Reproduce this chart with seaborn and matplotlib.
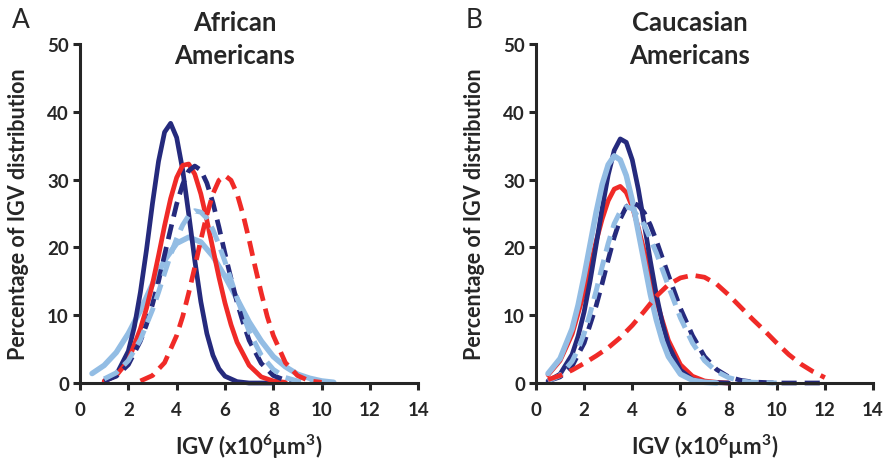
#%% Loading libraries
import seaborn as sns
import pandas as pd
import matplotlib.pyplot as plt

#%% Data (IGV in x10^6 um^3, percentage of distribution)
# Panel A - African Americans
a_navy_solid_x = [1.0, 1.5, 2.0, 2.25, 2.5, 2.75, 3.0, 3.25, 3.5, 3.75, 4.0, 4.25, 4.5,
                  4.75, 5.0, 5.25, 5.5, 5.75, 6.0, 6.5, 7.0, 8.0]
a_navy_solid_y = [0.2, 1.2, 4.7, 8.3, 13.4, 19.6, 26.5, 32.7, 37.0, 38.3, 36.2, 31.4, 24.9,
                  18.1, 12.0, 7.3, 4.1, 2.1, 1.0, 0.2, 0.0, 0.0]

a_red_solid_x = [1.0, 1.5, 2.0, 2.5, 2.75, 3.0, 3.25, 3.5, 3.75, 4.0, 4.25, 4.5, 4.75, 5.0,
                 5.25, 5.5, 5.75, 6.0, 6.25, 6.5, 7.0, 7.5, 8.0, 8.5]
a_red_solid_y = [0.3, 1.1, 3.3, 8.0, 11.0, 14.6, 18.8, 23.2, 27.2, 30.3, 32.1, 32.3, 30.8, 27.9,
                 24.0, 19.8, 15.6, 11.8, 8.6, 6.0, 2.6, 0.9, 0.3, 0.1]

a_navy_dash_x = [1.0, 1.5, 2.0, 2.5, 2.75, 3.0, 3.25, 3.5, 3.75, 4.0, 4.25, 4.5, 4.75, 5.0,
                 5.25, 5.5, 5.75, 6.0, 6.25, 6.5, 6.75, 7.0, 7.5, 8.0, 8.5, 9.0]
a_navy_dash_y = [0.3, 1.0, 2.7, 6.2, 8.6, 11.6, 15.0, 18.9, 22.7, 26.4, 29.3, 31.3, 32.0, 31.4,
                 29.5, 26.6, 23.0, 19.1, 15.4, 11.9, 8.9, 6.3, 2.9, 1.1, 0.4, 0.1]

a_red_dash_x = [2.5, 3.0, 3.5, 4.0, 4.25, 4.5, 4.75, 5.0, 5.25, 5.5, 5.75, 6.0, 6.25, 6.5,
                6.75, 7.0, 7.25, 7.5, 7.75, 8.0, 8.5, 9.0, 9.5, 10.0]
a_red_dash_y = [0.3, 1.1, 3.0, 7.0, 9.8, 13.3, 17.1, 21.1, 24.8, 27.9, 29.9, 30.6, 29.9, 27.9,
                24.8, 21.1, 17.1, 13.3, 9.8, 7.0, 3.0, 1.1, 0.3, 0.1]

a_blue_dash_x = [1.0, 1.5, 2.0, 2.5, 3.0, 3.25, 3.5, 3.75, 4.0, 4.25, 4.5, 4.75, 5.0, 5.25,
                 5.5, 5.75, 6.0, 6.5, 7.0, 7.5, 8.0, 8.5, 9.0, 10.0, 10.5]
a_blue_dash_y = [0.6, 1.5, 3.3, 6.4, 10.8, 13.4, 16.2, 18.9, 21.3, 23.3, 24.7, 25.4, 25.2, 24.3,
                 22.6, 20.4, 17.9, 12.5, 7.6, 4.1, 2.0, 0.8, 0.3, 0.05, 0.0]

a_blue_solid_x = [0.5, 1.0, 1.5, 2.0, 2.5, 3.0, 3.5, 4.0, 4.5, 5.0, 5.5, 6.0, 6.5, 7.0, 7.5,
                  8.0, 8.5, 9.0, 9.5, 10.0, 10.5]
a_blue_solid_y = [1.4, 2.6, 4.5, 7.3, 10.7, 14.6, 18.1, 20.6, 21.5, 20.8, 18.7, 15.7, 12.4, 9.0,
                  6.2, 3.9, 2.4, 1.3, 0.7, 0.3, 0.1]

# Panel B - Caucasian Americans
b_navy_solid_x = [0.5, 1.0, 1.5, 1.75, 2.0, 2.25, 2.5, 2.75, 3.0, 3.25, 3.5, 3.75, 4.0, 4.25,
                  4.5, 4.75, 5.0, 5.25, 5.5, 6.0, 6.5, 7.0, 8.0]
b_navy_solid_y = [0.3, 1.3, 4.2, 6.9, 10.5, 15.1, 20.4, 25.8, 30.7, 34.3, 36.0, 35.5, 32.9, 28.6,
                  23.4, 18.0, 13.0, 8.8, 5.6, 1.9, 0.5, 0.1, 0.0]

b_blue_solid_x = [0.5, 1.0, 1.5, 1.75, 2.0, 2.25, 2.5, 2.75, 3.0, 3.25, 3.5, 3.75, 4.0, 4.25,
                  4.5, 4.75, 5.0, 5.25, 5.5, 6.0, 6.5, 7.0, 7.5]
b_blue_solid_y = [1.4, 3.6, 8.0, 11.5, 15.8, 20.5, 25.2, 29.3, 32.2, 33.5, 32.9, 30.6, 26.9, 22.3,
                  17.7, 13.1, 9.3, 6.2, 3.9, 1.3, 0.4, 0.1, 0.0]

b_red_solid_x = [0.5, 1.0, 1.5, 2.0, 2.25, 2.5, 2.75, 3.0, 3.25, 3.5, 3.75, 4.0, 4.25, 4.5,
                 4.75, 5.0, 5.5, 6.0, 6.5, 7.0, 7.5, 8.0]
b_red_solid_y = [1.2, 3.3, 7.2, 13.4, 17.1, 20.9, 24.2, 26.9, 28.6, 29.0, 28.1, 26.0, 22.9, 19.4,
                 15.7, 12.1, 6.3, 2.7, 1.0, 0.3, 0.1, 0.0]

b_navy_dash_x = [0.5, 1.0, 1.5, 2.0, 2.5, 2.75, 3.0, 3.25, 3.5, 3.75, 4.0, 4.25, 4.5, 4.75,
                 5.0, 5.5, 6.0, 6.5, 7.0, 7.5, 8.0, 8.5, 9.0, 10.0, 11.0, 12.0]
b_navy_dash_y = [0.3, 0.9, 2.5, 5.9, 11.4, 14.7, 18.2, 21.5, 24.2, 26.0, 26.6, 26.2, 25.1, 23.3,
                 21.0, 15.9, 11.0, 7.0, 3.9, 2.0, 0.9, 0.4, 0.15, 0.0, 0.0, 0.0]

b_blue_dash_x = [0.5, 1.0, 1.5, 1.75, 2.0, 2.25, 2.5, 2.75, 3.0, 3.25, 3.5, 3.75, 4.0, 4.5,
                 5.0, 5.5, 6.0, 6.5, 7.0, 7.5, 8.0, 8.5, 9.0, 10.0]
b_blue_dash_y = [0.3, 1.1, 3.2, 5.0, 7.3, 10.3, 13.6, 17.2, 20.6, 23.5, 25.3, 26.0, 25.7, 23.3,
                 19.2, 14.3, 9.6, 5.9, 3.3, 1.7, 0.8, 0.3, 0.1, 0.0]

b_red_dash_x = [0.5, 1.0, 1.5, 2.0, 2.5, 3.0, 3.5, 4.0, 4.5, 5.0, 5.5, 6.0, 6.5, 7.0, 7.5,
                8.0, 8.5, 9.0, 9.5, 10.0, 10.5, 11.0, 11.5, 12.0]
b_red_dash_y = [0.5, 1.1, 1.9, 2.9, 4.0, 5.2, 6.7, 8.5, 10.6, 12.8, 14.5, 15.5, 15.9, 15.6, 14.6,
                13.0, 11.2, 9.4, 7.7, 5.9, 4.2, 2.8, 1.7, 0.8]

panel_titles = [("African", "Americans"), ("Caucasian", "Americans")]
panel_letters = ["A", "B"]
x_ticks = [0, 2, 4, 6, 8, 10, 12, 14]
y_ticks = [0, 10, 20, 30, 40, 50]

#%% Theming and fonts
sns.set_style("ticks")
plt.rcParams['font.family'] = ['Lato', 'DejaVu Sans']
plt.rcParams['mathtext.fontset'] = 'custom'
plt.rcParams['mathtext.bf'] = 'Lato:bold'
plt.rcParams['mathtext.rm'] = 'Lato'

navy = "#252A7D"
red = "#F02A27"
lblue = "#93BDE4"
solid = "-"
dashed = (0, (3.2, 1.7))

# (x, y, colour, linestyle, linewidth) per curve, drawing order
panel_a = [(a_blue_solid_x, a_blue_solid_y, lblue, solid, 4.0),
           (a_navy_solid_x, a_navy_solid_y, navy, solid, 3.4),
           (a_red_solid_x, a_red_solid_y, red, solid, 3.4),
           (a_navy_dash_x, a_navy_dash_y, navy, dashed, 3.4),
           (a_blue_dash_x, a_blue_dash_y, lblue, dashed, 3.6),
           (a_red_dash_x, a_red_dash_y, red, dashed, 3.4)]
panel_b = [(b_red_solid_x, b_red_solid_y, red, solid, 3.4),
           (b_navy_solid_x, b_navy_solid_y, navy, solid, 3.4),
           (b_blue_solid_x, b_blue_solid_y, lblue, solid, 4.0),
           (b_navy_dash_x, b_navy_dash_y, navy, dashed, 3.4),
           (b_blue_dash_x, b_blue_dash_y, lblue, dashed, 3.6),
           (b_red_dash_x, b_red_dash_y, red, dashed, 3.4)]

#%% Plotting
fig = plt.figure(figsize=(8.85, 4.6), dpi=100)
ax_a = fig.add_axes([80 / 885, 1 - 384 / 460, 338.3 / 885, 339 / 460])
ax_b = fig.add_axes([536 / 885, 1 - 384 / 460, 337 / 885, 339 / 460])

for ax, curves, title, letter in zip([ax_a, ax_b], [panel_a, panel_b],
                                     panel_titles, panel_letters):
    for xs, ys, col, ls, lw in curves:
        d = pd.DataFrame({"IGV": xs, "pct": ys})
        sns.lineplot(data=d, x="IGV", y="pct", ax=ax, color=col,
                     linestyle=ls, linewidth=lw, estimator=None, sort=False,
                     legend=False, clip_on=False)

    ax.set_xlim(0, 14)
    ax.set_ylim(0, 50)
    ax.set_xticks(x_ticks)
    ax.set_yticks(y_ticks)
    sns.despine(ax=ax)
    for s in ["left", "bottom"]:
        ax.spines[s].set_linewidth(2.2)
    ax.tick_params(width=2.2, length=5, labelsize=13.5)
    ax.tick_params(axis="x", pad=8)
    ax.tick_params(axis="y", pad=3)
    for lab in ax.get_xticklabels() + ax.get_yticklabels():
        lab.set_fontweight("bold")

    ax.set_xlabel("IGV (x10$^{\\mathbf{6}}$µm$^{\\mathbf{3}}$)", fontsize=16,
                  fontweight="bold")
    ax.set_ylabel("Percentage of IGV distribution", fontsize=15.5, fontweight="bold")
    ax.xaxis.set_label_coords(0.5, -0.145)
    ax.yaxis.set_label_coords(-0.15, 0.5)

    # two-line panel title sitting over the top of the axes
    ax.text(6.4, 52.1, title[0], ha="center", va="baseline", fontsize=18.5,
            fontweight="bold", clip_on=False)
    ax.text(6.4, 47.2, title[1], ha="center", va="baseline", fontsize=18.5,
            fontweight="bold", clip_on=False)

fig.text(12 / 885, 1 - 20 / 460, "A", fontsize=19, va="center", ha="left")
fig.text(466 / 885, 1 - 20 / 460, "B", fontsize=19, va="center", ha="left")

plt.savefig("out.png", dpi=100)
